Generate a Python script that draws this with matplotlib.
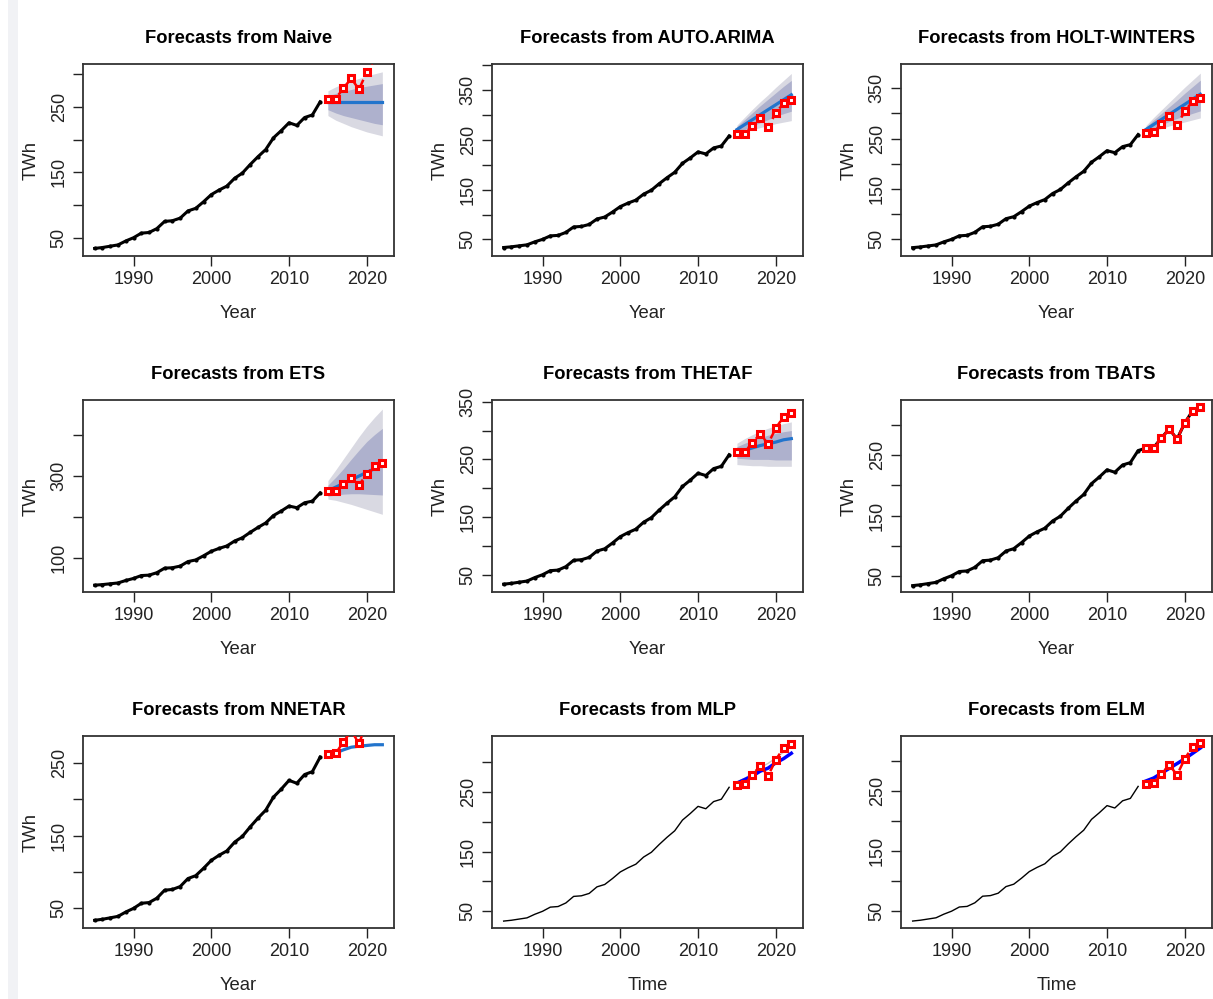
import matplotlib
matplotlib.use("Agg")
import matplotlib.pyplot as plt
from matplotlib.patches import Rectangle

plt.rcParams['font.family'] = ['Liberation Sans', 'DejaVu Sans']

# serie historica anual (TWh)
years = list(range(1985, 2015))
twh = [33.6, 35, 37, 39, 45, 50, 57, 58, 64, 75, 76, 80, 91, 95, 105,
       116, 123, 129, 141, 149, 162, 174, 185, 203, 214, 226, 222, 234, 238, 258]

# valores reales del periodo de prueba
test_years = list(range(2015, 2023))
actual = [262, 263, 279, 294, 277, 304, 324, 331]

# Naive
naive_mean = [258, 258, 258, 258, 258, 258, 258, 258]
naive_hi80 = [267, 271, 274, 277, 280, 282, 284, 286]
naive_lo80 = [246, 241, 237, 234, 231, 228, 225, 223]
naive_hi95 = [275, 281, 286, 290, 294, 298, 301, 304]
naive_lo95 = [237, 230, 225, 220, 216, 212, 209, 206]

# AUTO.ARIMA
arima_mean = [271, 281, 291, 301, 311, 321, 331, 341]
arima_hi80 = [277, 291, 305, 319, 332, 345, 358, 370]
arima_lo80 = [265, 271, 278, 285, 291, 298, 303, 308]
arima_hi95 = [280, 296, 312, 327, 341, 356, 370, 384]
arima_lo95 = [262, 266, 271, 275, 279, 283, 286, 289]

# HOLT-WINTERS
hw_mean = [268, 278, 288, 298, 308, 318, 328, 338]
hw_hi80 = [273, 287, 300, 313, 326, 340, 353, 366]
hw_lo80 = [263, 270, 277, 284, 290, 295, 300, 305]
hw_hi95 = [276, 292, 307, 322, 337, 352, 366, 380]
hw_lo95 = [260, 265, 270, 275, 279, 283, 287, 291]

# ETS
ets_mean = [263, 272, 281, 290, 299, 308, 317, 326]
ets_hi80 = [277, 296, 317, 340, 362, 383, 400, 415]
ets_lo80 = [250, 253, 255, 256, 256, 255, 254, 253]
ets_hi95 = [288, 314, 341, 368, 395, 420, 442, 462]
ets_lo95 = [243, 240, 235, 230, 224, 218, 212, 206]

# THETAF
theta_mean = [262, 266, 270, 274, 277, 280, 284, 286]
theta_hi80 = [272, 278, 283, 288, 292, 295, 298, 300]
theta_lo80 = [252, 251, 250, 250, 250, 249, 249, 249]
theta_hi95 = [278, 286, 293, 299, 304, 308, 312, 315]
theta_lo95 = [241, 240, 239, 239, 238, 238, 238, 238]

# NNETAR, MLP, ELM (solo pronostico puntual)
nnetar_mean = [263.8, 263.8, 268, 271.6, 273, 274, 275, 275]
mlp_mean = [265, 271, 277, 285, 290, 299, 306, 315]
mlp_reps = [267, 273, 281, 291, 298, 307, 317, 328]
elm_mean = [267, 272, 280, 288, 296, 304, 313, 322]

W, H = 1213, 999
fig = plt.figure(figsize=(W / 100, H / 100), dpi=100)
fig.add_artist(Rectangle((8 / W, 0), 10 / W, 1, transform=fig.transFigure,
                         facecolor='#F1F2F5', edgecolor='none', zorder=-5))

lefts = [83, 492, 901]
tops = [64, 400, 736]
aw, ah = 311, 192

C95 = '#D9D9E2'
C80 = '#AEB1CD'
CFC = '#2274CC'


def make_ax(row, col, title, ylim, ystep, label_every, xlabel, ylabel):
    x0 = lefts[col]
    y0 = tops[row]
    ax = fig.add_axes([x0 / W, 1 - (y0 + ah) / H, aw / W, ah / H])
    ax.set_xlim(1983.5, 2023.5)
    ax.set_ylim(*ylim)
    ax.set_xticks([1990, 2000, 2010, 2020])
    ticks = list(range(ystep, int(ylim[1]) + 1, ystep))
    ticks = [t for t in ticks if t >= ylim[0]]
    ax.set_yticks(ticks)
    ax.set_yticklabels([str(t) if (t - ticks[0]) % label_every == 0 else ''
                        for t in ticks], rotation=90, va='center')
    ax.tick_params(direction='out', length=7, width=1, labelsize=13,
                   colors='#222222', pad=4)
    for s in ax.spines.values():
        s.set_linewidth(1.3)
        s.set_color('#333333')
    ax.set_title(title, fontsize=13.2, fontweight='bold', pad=15)
    ax.set_xlabel(xlabel, fontsize=13.3, labelpad=12, color='#222222')
    if ylabel:
        ax.set_ylabel(ylabel, fontsize=13.3, labelpad=8, color='#222222')
    return ax


def draw_actual(ax):
    ax.plot(test_years, actual, color='red', lw=1.8, ls=(0, (3, 2)),
            marker='s', ms=4.5, mfc='white', mec='red', mew=2.2, zorder=5)


def band_panel(row, col, title, ylim, ystep, label_every, mean, lo80, hi80, lo95, hi95):
    ax = make_ax(row, col, title, ylim, ystep, label_every, 'Year', 'TWh')
    ax.fill_between(test_years, lo95, hi95, color=C95, lw=0)
    ax.fill_between(test_years, lo80, hi80, color=C80, lw=0)
    ax.plot(years, twh, color='black', lw=2.2, marker='.', ms=4)
    ax.plot(test_years, mean, color=CFC, lw=2.3)
    draw_actual(ax)
    return ax


band_panel(0, 0, 'Forecasts from Naive', (22, 316), 50, 100,
           naive_mean, naive_lo80, naive_hi80, naive_lo95, naive_hi95)
band_panel(0, 1, 'Forecasts from AUTO.ARIMA', (16.5, 403), 50, 100,
           arima_mean, arima_lo80, arima_hi80, arima_lo95, arima_hi95)
band_panel(0, 2, 'Forecasts from HOLT-WINTERS', (17, 398), 50, 100,
           hw_mean, hw_lo80, hw_hi80, hw_lo95, hw_hi95)
band_panel(1, 0, 'Forecasts from ETS', (17, 484), 100, 200,
           ets_mean, ets_lo80, ets_hi80, ets_lo95, ets_hi95)
band_panel(1, 1, 'Forecasts from THETAF', (20, 353), 50, 100,
           theta_mean, theta_lo80, theta_hi80, theta_lo95, theta_hi95)

# TBATS: serie completa en negro con los reales encima
ax = make_ax(1, 2, 'Forecasts from TBATS', (23, 342), 50, 100, 'Year', 'TWh')
ax.plot(years + test_years, twh + actual, color='black', lw=2.2, marker='.', ms=4)
draw_actual(ax)

# NNETAR
ax = make_ax(2, 0, 'Forecasts from NNETAR', (23, 287), 50, 100, 'Year', 'TWh')
ax.plot(years, twh, color='black', lw=2.2, marker='.', ms=4)
ax.plot(test_years, nnetar_mean, color=CFC, lw=2.3)
draw_actual(ax)

# MLP
ax = make_ax(2, 1, 'Forecasts from MLP', (22, 344), 50, 100, 'Time', None)
ax.plot(years, twh, color='black', lw=1)
ax.plot(test_years, mlp_reps, color='#C8C8C8', lw=1)
ax.plot(test_years, mlp_mean, color='blue', lw=2.5)
draw_actual(ax)

# ELM
ax = make_ax(2, 2, 'Forecasts from ELM', (22, 342), 50, 100, 'Time', None)
ax.plot(years, twh, color='black', lw=1)
ax.plot(test_years, elm_mean, color='blue', lw=2.5)
draw_actual(ax)

fig.savefig('out.png', dpi=100)
